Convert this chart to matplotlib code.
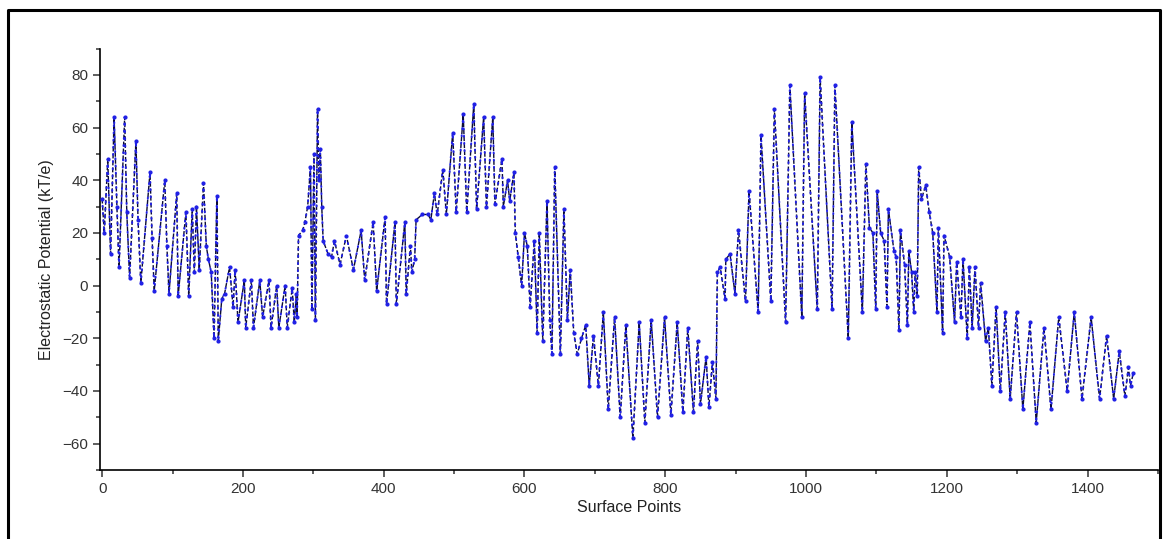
"""Electrostatic potential along the molecular surface points."""

import matplotlib
matplotlib.use("Agg")
import matplotlib.pyplot as plt
from matplotlib.lines import Line2D
from matplotlib.ticker import MultipleLocator

plt.rcParams["font.family"] = ["Liberation Sans", "DejaVu Sans"]

points = [
    0, 3, 8, 12, 17, 21, 24, 32, 35, 39, 48, 51, 55, 68, 71, 74, 89, 92, 95, 106,
    108, 119, 123, 128, 131, 134, 138, 144, 148, 151, 155, 159, 163, 165, 170, 174,
    181, 186, 189, 193, 202, 204, 212, 215, 224, 228, 237, 240, 248, 251, 260, 263,
    270, 273, 276, 277, 279, 285, 288, 292, 296, 298, 301, 303, 306, 308, 310, 312,
    314, 321, 326, 330, 338, 347, 357, 368, 373, 385, 390, 402, 404, 416, 418, 430,
    432, 438, 440, 444, 446, 455, 463, 467, 472, 476, 484, 489, 498, 503, 513, 518,
    528, 532, 542, 546, 555, 558, 568, 570, 576, 579, 585, 587, 591, 596, 600, 604,
    608, 614, 618, 621, 626, 632, 636, 639, 643, 651, 656, 661, 665, 670, 675, 681,
    687, 692, 698, 705, 712, 719, 728, 736, 744, 754, 763, 771, 780, 789, 799, 808,
    817, 825, 832, 840, 846, 850, 858, 862, 867, 872, 874, 878, 885, 886, 892, 899,
    904, 914, 919, 932, 936, 950, 955, 971, 977, 994, 998, 1016, 1020, 1037, 1041,
    1060, 1065, 1080, 1085, 1090, 1095, 1099, 1101, 1106, 1111, 1115, 1117, 1125,
    1128, 1132, 1134, 1140, 1144, 1146, 1150, 1153, 1155, 1158, 1160, 1164, 1170,
    1175, 1180, 1186, 1188, 1194, 1196, 1204, 1211, 1214, 1220, 1223, 1229, 1232,
    1236, 1240, 1245, 1248, 1255, 1259, 1264, 1270, 1276, 1283, 1290, 1299, 1308,
    1318, 1327, 1338, 1348, 1359, 1371, 1381, 1392, 1405, 1417, 1427, 1437, 1445,
    1453, 1458, 1461, 1465,
]
potential = [
    33, 20, 48, 12, 64, 30, 7, 64, 28, 3, 55, 25, 1, 43, 18, -2, 40, 15, -3, 35,
    -4, 28, -4, 29, 5, 30, 6, 39, 15, 10, 5, -20, 34, -21, -5, -3,
    7, -8, 6, -14, 2, -16, 2, -16, 2, -12, 2, -16, 0, -16, 0, -16,
    -1, -14, -3, -12, 19, 21, 24, 30, 45, -9, 50, -13, 67, 40, 52, 30,
    17, 12, 11, 17, 8, 19, 6, 21, 2, 24, -2, 26, -7, 24, -7, 24,
    -3, 15, 5, 10, 25, 27, 27, 25, 35, 27, 44, 27, 58, 28, 65, 28,
    69, 29, 64, 30, 64, 31, 48, 30, 40, 32, 43, 20, 11, 0, 20, 15,
    -8, 17, -18, 20, -21, 32, -13, -26, 45, -26, 29, -13, 6, -18, -26, -20,
    -15, -38, -19, -38, -10, -47, -12, -50, -15, -58, -14, -52, -13, -50, -12, -49,
    -14, -48, -16, -48, -21, -45, -27, -46, -29, -43, 5, 7, -5, 10, 12, -3,
    21, -6, 36, -10, 57, -6, 67, -14, 76, -12, 73, -9, 79, -9, 76,
    -20, 62, -10, 46, 22, 20, -9, 36, 20, 17, -8, 29, 13,
    11, -17, 21, 8, -15, 13, 5, -10, 5, -4, 45, 33, 38,
    28, 20, -10, 22, -18, 19, 11, -14, 9, -12, 10, -20, 7,
    -16, 7, -16, 1, -21, -16, -38, -8, -40, -10, -43, -10, -47,
    -14, -52, -16, -47, -12, -40, -10, -43, -12, -43, -19, -43, -25,
    -42, -31, -38, -33,
]

fig = plt.figure(figsize=(11.63, 5.39), dpi=100)
ax = fig.add_axes([0.086, 0.128, 0.9097, 0.782])

# dark dashed trace with small blue dots running along it
ax.plot(points, potential, color="#0c0c36", lw=1.0, ls=(0, (3.5, 1.5)), zorder=2)
ax.plot(points, potential, color="#2020e6", lw=1.4, ls=(0, (0.5, 3.2)),
        dash_capstyle="round", zorder=3)
ax.plot(points, potential, ls="none", marker="o", ms=2.0, color="#2020e6", zorder=4)

ax.set_xlim(-3, 1500)
ax.set_ylim(-70, 90)
ax.xaxis.set_major_locator(MultipleLocator(200))
ax.xaxis.set_minor_locator(MultipleLocator(100))
ax.yaxis.set_major_locator(MultipleLocator(20))
ax.yaxis.set_minor_locator(MultipleLocator(10))
ax.tick_params(which="both", direction="out", width=1.1, labelsize=11, colors="#333333")
ax.tick_params(which="major", length=5)
ax.tick_params(which="minor", length=3)
for side in ("top", "right"):
    ax.spines[side].set_visible(False)
for side in ("left", "bottom"):
    ax.spines[side].set_linewidth(1.2)

ax.set_xlabel("Surface Points", fontsize=11.5, color="#222222", labelpad=3)
ax.set_ylabel("Electrostatic Potential (kT/e)", fontsize=11.5, color="#222222", labelpad=6)

# outer frame round the picture
fx0, fx1, fy1 = 8 / 1163, 1160 / 1163, 1 - 10 / 539
fig.add_artist(Line2D([fx0, fx0, fx1, fx1], [0, fy1, fy1, 0], color="black", lw=2.2,
                      transform=fig.transFigure))

fig.savefig("out.png", dpi=100)
